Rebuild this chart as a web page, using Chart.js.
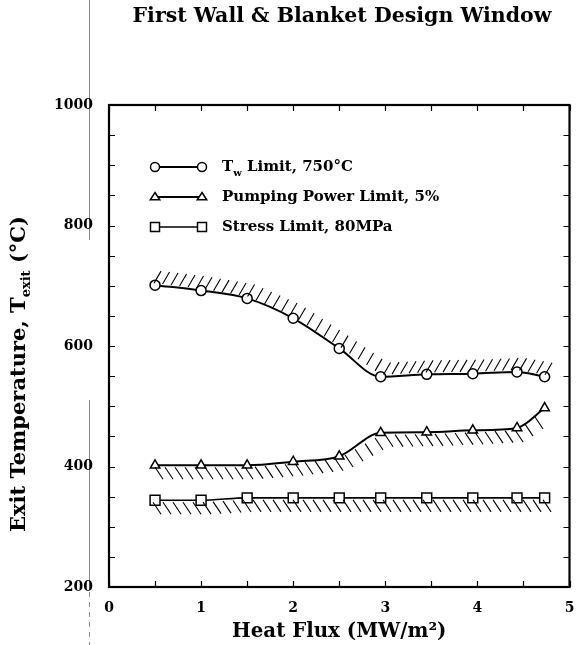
<!DOCTYPE html>
<html>
<head>
<meta charset="utf-8">
<script src="https://cdn.jsdelivr.net/npm/chart.js@4.4.0/dist/chart.umd.min.js"></script>
<style>
html,body{margin:0;padding:0;background:#fff;overflow:hidden;}
#wrap{position:relative;width:578px;height:645px;}
canvas{display:block;}
</style>
</head>
<body>
<div id="wrap"><canvas id="c" width="578" height="645"></canvas></div>
<script>
// ---- data ----
const heatFlux = [0.5, 1.0, 1.5, 2.0, 2.5, 2.95, 3.45, 3.95, 4.43, 4.73];
const wallTempLimit = [701, 692, 679, 646, 596, 549, 553, 554, 557, 549];
const pumpingPowerLimit = [402, 402, 402, 408, 417, 456, 457, 460, 464, 497];
const stressLimit = [344, 344, 348, 348, 348, 348, 348, 348, 348, 348];
const xTickValues = [0, 1, 2, 3, 4, 5];
const yTickValues = [200, 400, 600, 800, 1000];
const seriesLabels = ['T_w Limit, 750°C', 'Pumping Power Limit, 5%', 'Stress Limit, 80MPa'];
const titleText = 'First Wall & Blanket Design Window';
const xTitleText = 'Heat Flux (MW/m\u00B2)';
const yTitleParts = ['Exit Temperature, T', 'exit', ' (\u00B0C)'];

const SERIF = '"DejaVu Serif", "Liberation Serif", serif';

function toPoints(xs, ys) { return xs.map((x, i) => ({x: x, y: ys[i]})); }

// hatch marks along a series, drawn from the library's point elements
const hatchSpecs = [
  {ds: 0, dx: 7, dy: -12, gap: 8.5, start: -1, end: 2},
  {ds: 1, dx: 8, dy: 12, gap: 10, start: 0, end: -4},
  {ds: 2, dx: 8, dy: 12, gap: 10, start: -2, end: 0}
];

function yOnPath(pts, x) {
  if (x <= pts[0].x) return pts[0].y;
  for (let i = 1; i < pts.length; i++) {
    if (x <= pts[i].x) {
      const a = pts[i - 1], b = pts[i];
      return a.y + (b.y - a.y) * (x - a.x) / (b.x - a.x);
    }
  }
  return pts[pts.length - 1].y;
}

function drawMarker(ctx, style, x, y, r) {
  ctx.save();
  ctx.fillStyle = '#fff';
  ctx.strokeStyle = '#000';
  ctx.lineWidth = 1.5;
  ctx.beginPath();
  if (style === 'circle') {
    ctx.arc(x, y, r, 0, Math.PI * 2);
  } else if (style === 'triangle') {
    const h = r * 1.6;
    ctx.moveTo(x, y - h * 0.62);
    ctx.lineTo(x + r * 1.05, y + h * 0.38);
    ctx.lineTo(x - r * 1.05, y + h * 0.38);
    ctx.closePath();
  } else {
    ctx.rect(x - r, y - r, 2 * r, 2 * r);
  }
  ctx.fill();
  ctx.stroke();
  ctx.restore();
}

const decorPlugin = {
  id: 'decor',
  beforeDraw(chart) {
    const ctx = chart.ctx;
    ctx.save();
    ctx.fillStyle = '#fff';
    ctx.fillRect(0, 0, chart.width, chart.height);
    // faint scan line at left
    ctx.strokeStyle = '#8a8a8a';
    ctx.lineWidth = 1;
    ctx.beginPath();
    ctx.moveTo(89.5, 0); ctx.lineTo(89.5, 240);
    ctx.moveTo(89.5, 400); ctx.lineTo(89.5, 590);
    ctx.stroke();
    ctx.setLineDash([5, 5]);
    ctx.beginPath();
    ctx.moveTo(89.5, 592); ctx.lineTo(89.5, 645);
    ctx.stroke();
    ctx.restore();
  },
  afterDraw(chart) {
    const ctx = chart.ctx;
    const a = chart.chartArea;
    const xs = chart.scales.x, ys = chart.scales.y;
    ctx.save();
    // title
    ctx.fillStyle = '#000';
    ctx.font = 'bold 20.5px ' + SERIF;
    ctx.textAlign = 'center';
    ctx.textBaseline = 'middle';
    ctx.fillText(titleText, 342, 17);

    // frame
    ctx.strokeStyle = '#000';
    ctx.lineWidth = 2.2;
    ctx.strokeRect(a.left, a.top, a.right - a.left, a.bottom - a.top);
    // inward ticks
    ctx.lineWidth = 1.2;
    ctx.beginPath();
    for (let v = ys.min; v <= ys.max; v += 50) {
      const p = Math.round(ys.getPixelForValue(v)) + 0.5;
      ctx.moveTo(a.left, p); ctx.lineTo(a.left + 6, p);
      ctx.moveTo(a.right, p); ctx.lineTo(a.right - 6, p);
    }
    for (let v = xs.min; v <= xs.max + 1e-9; v += 0.5) {
      const p = Math.round(xs.getPixelForValue(v)) + 0.5;
      ctx.moveTo(p, a.top); ctx.lineTo(p, a.top + 6);
      ctx.moveTo(p, a.bottom); ctx.lineTo(p, a.bottom - 6);
    }
    ctx.stroke();

    // y-axis title with subscript
    ctx.translate(20, 374);
    ctx.rotate(-Math.PI / 2);
    const big = 'bold 21px ' + SERIF, small = 'bold 13px ' + SERIF;
    ctx.font = big; const w1 = ctx.measureText(yTitleParts[0]).width;
    const w3 = ctx.measureText(yTitleParts[2]).width;
    ctx.font = small; const w2 = ctx.measureText(yTitleParts[1]).width;
    let x0 = -(w1 + w2 + w3) / 2;
    ctx.textBaseline = 'middle';
    ctx.textAlign = 'left';
    ctx.font = big; ctx.fillText(yTitleParts[0], x0, 0);
    ctx.font = small; ctx.fillText(yTitleParts[1], x0 + w1, 7);
    ctx.font = big; ctx.fillText(yTitleParts[2], x0 + w1 + w2, 0);
    ctx.restore();

    // legend
    ctx.save();
    const styles = ['circle', 'triangle', 'rect'];
    const lws = [2, 2, 1.5];
    const lx1 = a.left + 46, lx2 = a.left + 93, tx = a.left + 113;
    const rowY = [a.top + 62, a.top + 92, a.top + 122];
    for (let i = 0; i < 3; i++) {
      ctx.strokeStyle = '#000';
      ctx.lineWidth = lws[i];
      ctx.beginPath(); ctx.moveTo(lx1, rowY[i]); ctx.lineTo(lx2, rowY[i]); ctx.stroke();
      drawMarker(ctx, styles[i], lx1, rowY[i], 4.5);
      drawMarker(ctx, styles[i], lx2, rowY[i], 4.5);
      ctx.fillStyle = '#000';
      ctx.textBaseline = 'middle';
      ctx.textAlign = 'left';
      const f = 'bold 15px ' + SERIF;
      if (i === 0) {
        ctx.font = f; ctx.fillText('T', tx, rowY[i]);
        const wt = ctx.measureText('T').width;
        ctx.font = 'bold 10px ' + SERIF; ctx.fillText('w', tx + wt, rowY[i] + 6);
        const ww = ctx.measureText('w').width;
        ctx.font = f; ctx.fillText(' Limit, 750\u00B0C', tx + wt + ww, rowY[i]);
      } else {
        ctx.font = f; ctx.fillText(seriesLabels[i], tx, rowY[i]);
      }
    }
    ctx.restore();
  },
  afterDatasetsDraw(chart) {
    const ctx = chart.ctx;
    ctx.save();
    ctx.strokeStyle = '#000';
    ctx.lineWidth = 1.1;
    hatchSpecs.forEach(s => {
      const pts = chart.getDatasetMeta(s.ds).data.map(e => ({x: e.x, y: e.y}));
      const xStart = pts[0].x + s.start, xEnd = pts[pts.length - 1].x + s.end;
      ctx.beginPath();
      for (let x = xStart; x <= xEnd; x += s.gap) {
        const y = yOnPath(pts, x) + (s.dy < 0 ? -2 : 2);
        ctx.moveTo(x, y);
        ctx.lineTo(x + s.dx, y + s.dy);
      }
      ctx.stroke();
    });
    ctx.restore();
  }
};

const common = {
  borderColor: '#000',
  backgroundColor: '#fff',
  pointBackgroundColor: '#fff',
  pointBorderColor: '#000',
  pointBorderWidth: 1.5,
  pointRadius: 5,
  borderWidth: 2,
  cubicInterpolationMode: 'monotone',
  fill: false
};

new Chart(document.getElementById('c'), {
  type: 'line',
  data: {
    datasets: [
      Object.assign({label: seriesLabels[0], data: toPoints(heatFlux, wallTempLimit), pointStyle: 'circle'}, common),
      Object.assign({label: seriesLabels[1], data: toPoints(heatFlux, pumpingPowerLimit), pointStyle: 'triangle'}, common, {pointRadius: 5.5}),
      Object.assign({label: seriesLabels[2], data: toPoints(heatFlux, stressLimit), pointStyle: 'rect'}, common, {borderWidth: 1.6, pointRadius: 7})
    ]
  },
  options: {
    responsive: false,
    animation: false,
    devicePixelRatio: 1,
    layout: {padding: {left: 0, right: 5, top: 105, bottom: 0}},
    plugins: {
      legend: {display: false},
      tooltip: {enabled: false},
      title: {display: false}
    },
    scales: {
      x: {
        type: 'linear',
        min: 0, max: 5,
        afterFit(s) { s.height = 58; s.paddingLeft = 0; s.paddingRight = 0; },
        afterBuildTicks(s) { s.ticks = xTickValues.map(v => ({value: v})); },
        grid: {display: false, drawTicks: false},
        border: {display: false},
        ticks: {
          color: '#000', padding: 13, autoSkip: false, maxRotation: 0,
          callback: v => String(v),
          font: {family: SERIF, size: 14, weight: 'bold'}
        },
        title: {
          display: true, text: xTitleText, color: '#000',
          font: {family: SERIF, size: 19.8, weight: 'bold', lineHeight: 1.2},
          padding: {top: 2, bottom: 1}
        }
      },
      y: {
        type: 'linear',
        min: 200, max: 1000,
        afterFit(s) { s.width = 109; },
        afterBuildTicks(s) { s.ticks = yTickValues.map(v => ({value: v})); },
        grid: {display: false, drawTicks: false},
        border: {display: false},
        ticks: {
          color: '#000', padding: 16,
          callback: v => String(v),
          font: {family: SERIF, size: 14, weight: 'bold'}
        }
      }
    }
  },
  plugins: [decorPlugin]
});
</script>
</body>
</html>
